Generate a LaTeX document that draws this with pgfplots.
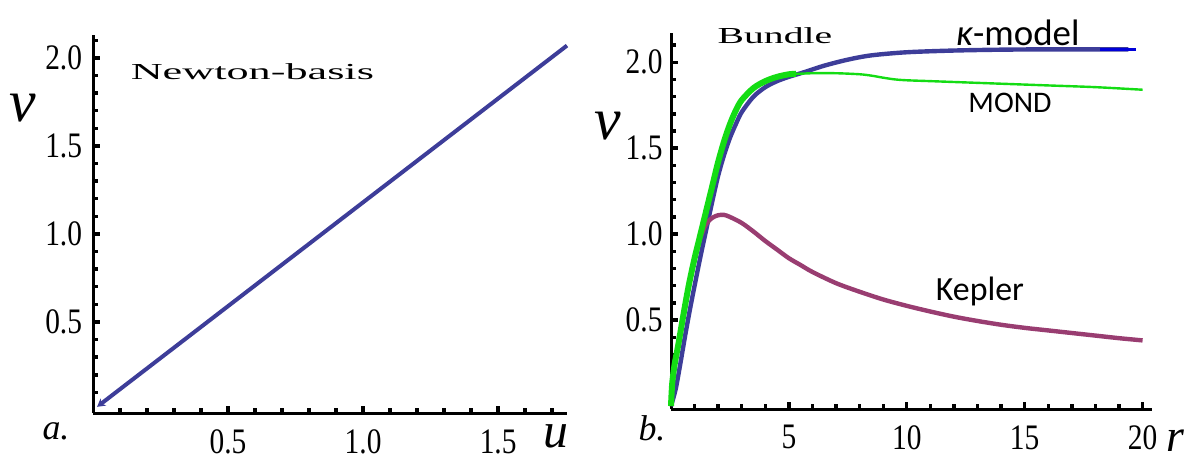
\documentclass[border=0pt]{standalone}
\usepackage{pgfplots}
\pgfplotsset{compat=1.18}
\usepackage{fontspec}
\setmainfont{Liberation Serif}
\newfontfamily\labelfont{Carlito}
\usetikzlibrary{arrows.meta}

\definecolor{kappablue}{RGB}{61,61,153}
\definecolor{keplerpurple}{RGB}{153,61,113}
\definecolor{mondgreen}{RGB}{20,220,20}

\pgfplotsset{panel/.style={
  scale only axis, axis lines=left,
  axis line style={-, line width=1.5bp},
  tick align=inside, major tick length=3.4bp, minor tick length=2.4bp,
  tick style={black, line width=1.7bp},
  every major tick/.append style={line width=1.7bp},
  every minor tick/.append style={line width=1.7bp},
  ticklabel style={font=\fontsize{18}{18}\selectfont, xscale=0.82, inner sep=0pt},
  xticklabel style={anchor=north, yshift=-8bp},
  clip=false,
}}

\begin{document}
\begin{tikzpicture}
% frame of the whole figure
\path[use as bounding box] (0,0) rectangle (593.5bp,-230.5bp);

% (a) Newton basis
\begin{axis}[panel, at={(46.5bp,-206.5bp)}, anchor=south west,
  width=237bp, height=189bp,
  xmin=0, xmax=1.755, ymin=-0.017, ymax=2.13,
  xtick={0.5,1,1.5}, xticklabels={0.5,1.0,1.5},
  ytick={0.5,1,1.5,2}, yticklabels={0.5,1.0,1.5,2.0},
  minor xtick={0.1,0.2,0.3,0.4,0.6,0.7,0.8,0.9,1.1,1.2,1.3,1.4,1.6,1.7},
  minor ytick={0.1,0.2,0.3,0.4,0.6,0.7,0.8,0.9,1.1,1.2,1.3,1.4,1.6,1.7,1.8,1.9,2.1},
  yticklabel style={anchor=east, xshift=-6.5bp}]
\addplot[kappablue, line width=2bp, {Stealth[length=4bp,width=4.5bp]}-]
  coordinates {(0.015,0.018) (1.755,2.07)};
\end{axis}

% (b) rotation curves
\begin{axis}[panel, at={(335.5bp,-204.5bp)}, anchor=south west,
  width=240.5bp, height=188bp,
  xmin=0, xmax=20.4, ymin=-0.017, ymax=2.17,
  xtick={5,10,15,20}, xticklabels={5,10,15,20},
  ytick={0.5,1,1.5,2}, yticklabels={0.5,1.0,1.5,2.0},
  minor xtick={1,2,3,4,6,7,8,9,11,12,13,14,16,17,18,19},
  minor ytick={0.1,0.2,0.3,0.4,0.6,0.7,0.8,0.9,1.1,1.2,1.3,1.4,1.6,1.7,1.8,1.9,2.1},
  yticklabel style={anchor=east, xshift=-5bp}]
% kappa-model
\addplot[kappablue, line width=2.2bp, smooth] coordinates {
  (0,0) (0.2,0.1) (0.4,0.25) (0.6,0.41) (0.8,0.56) (1.0,0.70) (1.25,0.87)
  (1.5,1.03) (1.75,1.19) (2.0,1.34) (2.25,1.46) (2.5,1.56) (2.75,1.64)
  (3.0,1.71) (3.5,1.80) (4.0,1.855) (4.5,1.89) (5.0,1.915) (5.6,1.94)
  (6.5,1.98) (7.5,2.015) (8.5,2.04) (10,2.058) (12,2.068) (14,2.073)
  (16,2.075) (18,2.075) (19.4,2.075)};
\addplot[blue!85!black, line width=1.2bp] coordinates {(18.2,2.075) (19.7,2.075)};
% Kepler
\addplot[keplerpurple, line width=2.2bp, smooth] coordinates {
  (0,0) (0.05,0.13) (0.15,0.24) (0.3,0.35) (0.5,0.51) (0.75,0.70) (1.0,0.86)
  (1.25,0.98) (1.5,1.06) (1.75,1.095) (2.0,1.11) (2.25,1.112) (2.5,1.10)
  (3.0,1.065) (3.5,1.015) (4.0,0.96) (4.5,0.91) (5.0,0.86) (5.5,0.82)
  (6,0.78) (7,0.715) (8,0.665) (9,0.62) (10,0.583) (11,0.55) (12,0.52)
  (13,0.495) (14,0.473) (15,0.455) (16,0.44) (17,0.425) (18,0.41)
  (19,0.395) (20,0.382)};
% MOND
\addplot[mondgreen, line width=3bp, smooth] coordinates {
  (0,0) (0.05,0.13) (0.15,0.24) (0.3,0.35) (0.5,0.51) (0.75,0.70) (1.0,0.86)
  (1.25,1.00) (1.5,1.14) (1.75,1.28) (2.0,1.42) (2.25,1.54) (2.5,1.64)
  (2.75,1.72) (3.0,1.78) (3.5,1.85) (4.0,1.89) (4.5,1.915) (5.0,1.93) (5.3,1.933)};
\addplot[mondgreen, line width=1.2bp, smooth] coordinates {
  (5.0,1.93) (6,1.936) (7,1.936) (8,1.93) (8.5,1.922) (9,1.91) (9.5,1.90)
  (10,1.895) (11,1.89) (12,1.885) (14,1.875) (16,1.865) (18,1.855) (20,1.84)};
\end{axis}

\begin{scope}[x=0.5bp, y=-0.5bp]
\node[anchor=base west, font=\fontsize{11.5}{12}\selectfont, xscale=1.93, inner sep=0pt]
  at (130,80) {Newton-basis};
\node[anchor=base west, font=\fontsize{11.5}{12}\selectfont, xscale=1.73, inner sep=0pt]
  at (717,43) {Bundle};
\node[anchor=base, font=\labelfont\fontsize{18.5}{19}\selectfont, inner sep=0pt]
  at (1018,45) {{\itshape κ}-model};
\node[anchor=base, font=\labelfont\fontsize{15}{16}\selectfont, inner sep=0pt]
  at (1010,113) {MOND};
\node[anchor=base, font=\labelfont\fontsize{17}{18}\selectfont, inner sep=0pt]
  at (980,301) {Kepler};
\node[anchor=base, font=\fontsize{30}{30}\selectfont\itshape, inner sep=0pt] at (23,122) {v};
\node[anchor=base, font=\fontsize{30}{30}\selectfont\itshape, inner sep=0pt] at (608,140) {v};
\node[anchor=base, font=\fontsize{25}{25}\selectfont\itshape, inner sep=0pt] at (556,448) {u};
\node[anchor=base, font=\fontsize{23}{23}\selectfont\itshape, inner sep=0pt] at (1175,452) {r};
\node[anchor=base, font=\fontsize{18}{18}\selectfont\itshape, inner sep=0pt] at (56,440) {a.};
\node[anchor=base, font=\fontsize{18}{18}\selectfont\itshape, inner sep=0pt] at (652,441) {b.};
\end{scope}
\end{tikzpicture}
\end{document}
